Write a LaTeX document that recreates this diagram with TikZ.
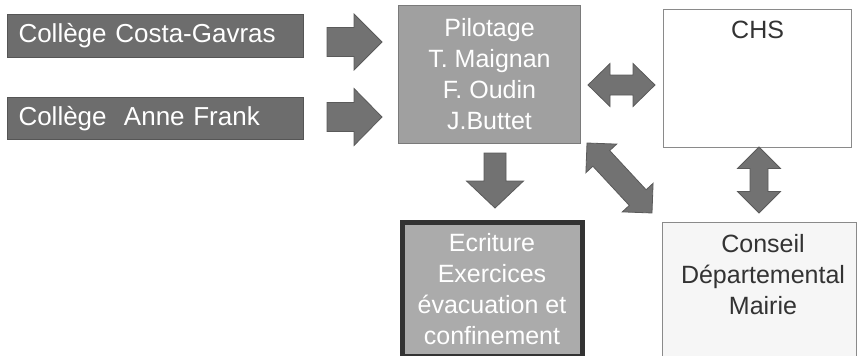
\documentclass[tikz,border=0pt]{standalone}
\usepackage{fontspec}
\setmainfont{Liberation Sans}
\usetikzlibrary{calc}
\definecolor{darkfill}{HTML}{6D6D6D}
\definecolor{darkline}{HTML}{555555}
\definecolor{midfill}{HTML}{A0A0A0}
\definecolor{midline}{HTML}{7A7A7A}
\definecolor{litefill}{HTML}{ABABAB}
\definecolor{heavyline}{HTML}{333333}
\definecolor{arrfill}{HTML}{727272}
\definecolor{arrline}{HTML}{5A5A5A}
\definecolor{textdark}{HTML}{333333}
\definecolor{paleline}{HTML}{8A8A8A}
\definecolor{palefill}{HTML}{F6F6F6}
\tikzset{
  boxbase/.style={rectangle, anchor=north west, inner sep=0pt, align=center,
    font=\fontsize{25}{31}\selectfont},
  darkbox/.style={boxbase, fill=darkfill, draw=darkline, line width=1pt, text=white,
    font=\fontsize{26}{31}\selectfont, align=left, text width=274pt, inner xsep=11pt},
  pilbox/.style={boxbase, fill=midfill, draw=midline, line width=1pt, text=white},
  ecrbox/.style={boxbase, fill=litefill, draw=heavyline, line width=5pt, text=white},
  whitebox/.style={boxbase, fill=white, draw=paleline, line width=1.2pt},
  palebox/.style={boxbase, fill=palefill, draw=paleline, line width=1pt},
  darktext/.style={text=textdark, font=\fontsize{25}{31}\selectfont, align=center, inner sep=0pt},
  arrowstyle/.style={fill=arrfill, draw=arrline, line width=0.8pt, line join=miter},
  pics/sarr/.style args={#1/#2/#3/#4}{code={
    \path[arrowstyle] (0,-#4) -- (#1-#2,-#4) -- (#1-#2,-#3) -- (#1,0)
      -- (#1-#2,#3) -- (#1-#2,#4) -- (0,#4) -- cycle;}},
  pics/dblarr/.style args={#1/#2/#3/#4}{code={
    \path[arrowstyle] (0,0) -- (#2,-#3) -- (#2,-#4) -- (#1-#2,-#4) -- (#1-#2,-#3)
      -- (#1,0) -- (#1-#2,#3) -- (#1-#2,#4) -- (#2,#4) -- (#2,#3) -- cycle;}}
}
\begin{document}
\begin{tikzpicture}[x=1pt,y=-1pt]
\useasboundingbox (0,0) rectangle (857,356);
\clip (0,0) rectangle (857,356);
% boxes
\node[darkbox, minimum height=43pt] (c1) at (7,14) {Collège Costa-Gavras};
\node[darkbox, minimum height=42pt] (c2) at (7,97) {Collège\ \ Anne Frank};
\node[pilbox, minimum width=182pt, minimum height=138pt] (pil) at (398,5)
  {Pilotage\\T. Maignan\\F. Oudin\\J.Buttet};
\node[whitebox, minimum width=188pt, minimum height=138pt] (chs) at (663,9) {};
\node[darktext, anchor=base] (chslabel) at ($(chs.north)+(0,29)$) {CHS};
\node[ecrbox, minimum width=180pt, minimum height=134pt] (ecr) at (399.5,219.5)
  {Ecriture\\Exercices\\évacuation et\\confinement};
\node[palebox, minimum width=194pt, minimum height=150pt] (cons) at (662,222) {};
\node[darktext] (conslabel) at (763,275) {Conseil\\Départemental\\Mairie};
% arrows
\pic at (327,42) {sarr=55/28/28/14.5};
\pic at (327,117) {sarr=55/28/28.5/14.5};
\pic[rotate=-90] at (495,153) {sarr=55/27/28.5/11};
\pic at (588,85) {dblarr=67/22/21.5/10};
\pic[rotate=-90] at (759,147) {dblarr=66/21.5/21.5/9};
\pic[rotate=-47.12] at (587,143) {dblarr=95.5/21/21/11.5};
\end{tikzpicture}
\end{document}
